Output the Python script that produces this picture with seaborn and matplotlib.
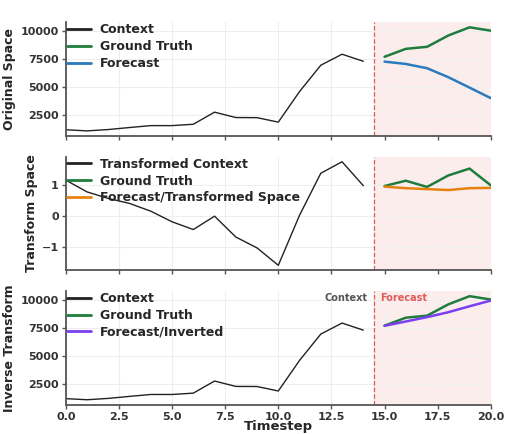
import numpy as np
import pandas as pd
import matplotlib
matplotlib.use("Agg")
import matplotlib.pyplot as plt
import seaborn as sns

# Timesteps
context_t = list(range(0, 15))
horizon_t = list(range(15, 21))

# Original series (context) and ground truth over the horizon
context_orig = [1190, 1090, 1210, 1390, 1560, 1560, 1680, 2760, 2280, 2270,
                1870, 4600, 6950, 7930, 7300]
truth_orig = [7700, 8410, 8590, 9600, 10330, 10030]
forecast_orig = [7270, 7060, 6680, 5880, 4950, 4010]

# Transformed space
context_tf = [1.15, 0.77, 0.56, 0.40, 0.15, -0.19, -0.44, -0.01, -0.68, -1.03,
              -1.59, 0.02, 1.37, 1.74, 0.97]
truth_tf = [0.96, 1.13, 0.93, 1.30, 1.52, 0.98]
forecast_tf = [0.94, 0.89, 0.86, 0.83, 0.89, 0.90]

# Forecast mapped back through the inverse transform
forecast_inv = [7690, 8070, 8460, 8900, 9430, 9940]

panel_titles = ["Original Space", "Transform Space", "Inverse Transform"]

sns.set_theme(style="whitegrid")
plt.rcParams.update({
    "font.family": ["DejaVu Sans"],
    "font.weight": "bold",
    "axes.labelweight": "bold",
    "axes.edgecolor": "#555555",
    "axes.linewidth": 1.3,
    "grid.color": "#eeeeee",
    "grid.linewidth": 0.8,
    "xtick.color": "#555555",
    "ytick.color": "#555555",
    "xtick.labelcolor": "#333333",
    "ytick.labelcolor": "#333333",
    "xtick.bottom": True,
    "ytick.left": True,
    "xtick.major.size": 3,
    "ytick.major.size": 3,
    "xtick.labelsize": 8,
    "ytick.labelsize": 8,
})

C_CTX = "#222222"
C_GT = "#1e7d3c"
C_BLUE = "#2a7bbd"
C_ORANGE = "#e8820f"
C_PURPLE = "#7b3ff2"
C_SPLIT = "#e05a5a"

fig, axes = plt.subplots(3, 1, figsize=(5.06, 4.34), dpi=100, sharex=True)
fig.subplots_adjust(left=0.130, right=0.970, top=0.949, bottom=0.067, hspace=0.18)

ctx_df = pd.DataFrame({"t": context_t, "orig": context_orig, "tf": context_tf})
hz_df = pd.DataFrame({"t": horizon_t, "truth": truth_orig, "fc": forecast_orig,
                      "truth_tf": truth_tf, "fc_tf": forecast_tf, "inv": forecast_inv})

panels = [
    [("orig", ctx_df, "Context", C_CTX, 1.0),
     ("truth", hz_df, "Ground Truth", C_GT, 1.8),
     ("fc", hz_df, "Forecast", C_BLUE, 1.8)],
    [("tf", ctx_df, "Transformed Context", C_CTX, 1.0),
     ("truth_tf", hz_df, "Ground Truth", C_GT, 1.8),
     ("fc_tf", hz_df, "Forecast/Transformed Space", C_ORANGE, 1.8)],
    [("orig", ctx_df, "Context", C_CTX, 1.0),
     ("truth", hz_df, "Ground Truth", C_GT, 1.8),
     ("inv", hz_df, "Forecast/Inverted", C_PURPLE, 1.8)],
]

for ax, spec, title in zip(axes, panels, panel_titles):
    ax.axvspan(14.5, 20, color="#fbe6e6", alpha=0.7, lw=0, zorder=0)
    ax.axvline(14.5, color=C_SPLIT, ls="--", lw=0.9, zorder=1)
    for col, df, label, color, lw in spec:
        sns.lineplot(data=df, x="t", y=col, ax=ax, color=color, lw=lw, label=label)
    ax.set_xlim(0, 20)
    ax.set_ylabel(title, fontsize=9, fontweight="bold", labelpad=3)
    ax.set_xlabel("")
    for s in ["top", "right"]:
        ax.spines[s].set_visible(False)
    ax.tick_params(axis="both", pad=2, length=3, width=1)
    leg = ax.legend(loc="upper left", frameon=False,
                    prop={"weight": "bold", "size": 9},
                    borderaxespad=0.0, borderpad=0.1, labelspacing=0.3,
                    handlelength=1.9, handletextpad=0.7)
    for h in leg.get_lines():
        h.set_linewidth(2.0)

axes[0].set_yticks([2500, 5000, 7500, 10000])
axes[2].set_yticks([2500, 5000, 7500, 10000])
axes[1].set_yticks([-1, 0, 1])
axes[2].set_xticks([0, 2.5, 5, 7.5, 10, 12.5, 15, 17.5, 20])
for ax in axes:
    for tl in ax.get_xticklabels() + ax.get_yticklabels():
        tl.set_fontweight("bold")
axes[2].set_xlabel("Timestep", fontsize=9.5, fontweight="bold", labelpad=-1)

axes[2].text(14.2, 0.94, "Context", transform=axes[2].get_xaxis_transform(),
             ha="right", va="center", fontsize=7, fontweight="bold", color="#555555")
axes[2].text(14.8, 0.94, "Forecast", transform=axes[2].get_xaxis_transform(),
             ha="left", va="center", fontsize=7, fontweight="bold", color=C_SPLIT)

fig.savefig("out.png", dpi=100)
